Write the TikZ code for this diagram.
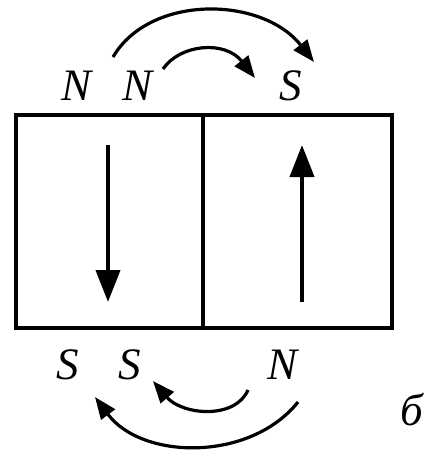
\documentclass[tikz,border=0pt]{standalone}
\usepackage{fontspec}
\setmainfont{Liberation Serif}
\usetikzlibrary{arrows.meta}

\begin{document}
\begin{tikzpicture}[x=1pt, y=-1pt,
    pole/.style={anchor=base, font=\itshape\fontsize{45}{45}\selectfont},
    frame/.style={draw=black, line width=3.6pt},
    field/.style={draw=black, line width=4pt,
                  -{Triangle[length=32pt, width=24pt]}},
    swap/.style={draw=black, line width=3.2pt,
                 -{Triangle[length=22pt, width=17pt]}}
  ]
    \useasboundingbox (0,0) rectangle (433,452);
    \def\yt{100} \def\yb{379}

    % poles
    \node[pole] (ntl) at (77,\yt)  {N};
    \node[pole] (ntm) at (138,\yt) {N};
    \node[pole] (str) at (291,\yt) {S};
    \node[pole] (sbl) at (68,\yb)  {S};
    \node[pole] (sbm) at (130,\yb) {S};
    \node[pole] (nbr) at (283,\yb) {N};
    \node[pole] (lbl) at (412,425) {б};

    % magnet halves
    \draw[frame] (16,115) rectangle (392,328);
    \draw[frame] (203,115) -- (203,328);

    \coordinate (ls) at (108,145); \coordinate (le) at (108,302);
    \coordinate (rs) at (302,302); \coordinate (re) at (302,145);
    \draw[field] (ls) -- (le);
    \draw[field] (rs) -- (re);

    % arcs
    \coordinate (ta) at (113,57);  \coordinate (tb) at (314,62);
    \coordinate (tc) at (163,69);  \coordinate (td) at (255,78);
    \coordinate (ba) at (248,390); \coordinate (bb) at (153,381);
    \coordinate (bc) at (298,402); \coordinate (bd) at (95,397);
    \draw[swap] (ta) .. controls (150,-6) and (262,-4) .. (tb);
    \draw[swap] (tc) .. controls (180,44) and (225,40) .. (td);
    \draw[swap] (ba) .. controls (235,420) and (182,415) .. (bb);
    \draw[swap] (bc) .. controls (250,462) and (142,460) .. (bd);
  \end{tikzpicture}
\end{document}
